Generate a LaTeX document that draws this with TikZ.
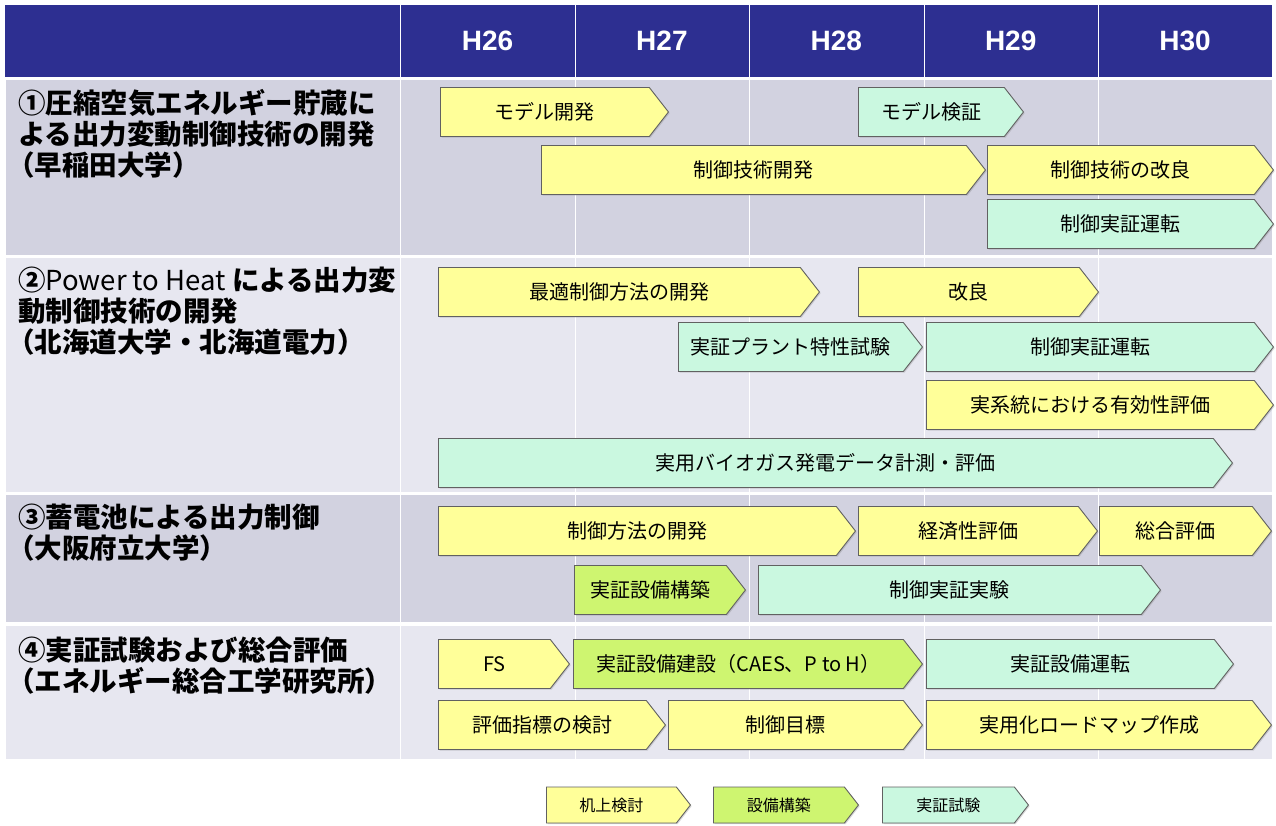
\documentclass[tikz,border=0pt]{standalone}
\usepackage{fontspec}
\setmainfont{Noto Sans CJK JP}
\newfontfamily\hdrfont{Liberation Sans}
\usetikzlibrary{shapes.symbols,shadows}
\definecolor{hdrblue}{RGB}{45,47,145}
\definecolor{rowdark}{RGB}{210,210,224}
\definecolor{rowlight}{RGB}{231,231,240}
\definecolor{deskyellow}{RGB}{255,255,153}
\definecolor{buildgreen}{RGB}{206,245,112}
\definecolor{testmint}{RGB}{202,248,224}
\begin{document}
\begin{tikzpicture}[x=1pt,y=-1pt,
  bar/.style={signal,signal to=east,signal from=nowhere,signal pointer angle=104,
    draw=black!62,line width=0.9pt,inner sep=0pt,minimum height=49pt,anchor=west,
    font=\fontsize{20}{20}\selectfont,
    drop shadow={shadow xshift=1.2pt,shadow yshift=-1.2pt,opacity=0.3}},
  desk/.style={bar,fill=deskyellow},
  build/.style={bar,fill=buildgreen},
  test/.style={bar,fill=testmint},
  keybar/.style={minimum height=36pt,font=\fontsize{16}{16}\selectfont},
  yearlabel/.style={text=white,font=\hdrfont\bfseries\fontsize{28}{28}\selectfont},
  tasklabel/.style={anchor=north west,align=left,inner sep=0pt,
    font=\bfseries\fontsize{27.5}{31}\selectfont}]
  \useasboundingbox (0,0) rectangle (1276,826);
  \fill[hdrblue] (5,5) rectangle (1272,77);
  \fill[rowdark] (6,80) rectangle (1272,255);
  \fill[rowlight] (6,258) rectangle (1272,492);
  \fill[rowdark] (6,495) rectangle (1272,622);
  \fill[rowlight] (6,626) rectangle (1272,759);
  \foreach \x in {400,575,749,924,1098}
    {\draw[white,thin] (\x,5)--(\x,759);}
  \foreach \n [evaluate=\n as \x using 487.5+174.4*(\n-26)] in {26,...,30}
    {\node[yearlabel] (h\n) at (\x,41) {H\n};}
  \node[tasklabel] (task1) at (18,89) {①圧縮空気エネルギー貯蔵に\\よる出力変動制御技術の開発\\\hspace{-0.4em}（早稲田大学）};
  \node[tasklabel] (task2) at (18,267) {②{\mdseries Power to Heat} による出力変\\動制御技術の開発\\\hspace{-0.4em}（北海道大学・北海道電力）};
  \node[tasklabel] (task3) at (18,504) {③蓄電池による出力制御\\\hspace{-0.4em}（大阪府立大学）};
  \node[tasklabel] (task4) at (18,637) {④実証試験および総合評価\\\hspace{-0.4em}（エネルギー総合工学研究所）};
  \foreach \n/\a/\b/\y/\s/\t in {
      m1/440/668/112/desk/モデル開発, m2/858/1023/112/test/モデル検証,
      m3/541/985/170/desk/制御技術開発, m4/987/1273/170/desk/制御技術の改良,
      m5/987/1273/224/test/制御実証運転,
      p1/438/819/292/desk/最適制御方法の開発, p2/858/1098/292/desk/改良,
      p3/678/922/347/test/実証プラント特性試験, p4/926/1273/347/test/制御実証運転,
      p5/926/1273/405/desk/実系統における有効性評価,
      p6/438/1232/463/test/実用バイオガス発電データ計測・評価,
      b1/438/855/531/desk/制御方法の開発, b2/858/1097/531/desk/経済性評価,
      b3/1099/1271/531/desk/総合評価, b4/574/745/590/build/実証設備構築,
      b5/758/1160/590/test/制御実証実験,
      e1/438/569/664/desk/FS, e2/573/922/664/build/実証設備建設（CAES、P to H）,
      e3/926/1233/664/test/実証設備運転, e4/438/665/725/desk/評価指標の検討,
      e5/668/922/725/desk/制御目標, e6/926/1271/725/desk/実用化ロードマップ作成}
    {\node[\s,minimum width=\b-\a] (\n) at (\a,\y) {\t};}
  \foreach \n/\a/\b/\s/\t in {key1/546/690/desk/机上検討,key2/713/858/build/設備構築,key3/882/1028/test/実証試験}
    {\node[\s,keybar,minimum width=\b-\a] (\n) at (\a,805) {\t};}
\end{tikzpicture}
\end{document}
